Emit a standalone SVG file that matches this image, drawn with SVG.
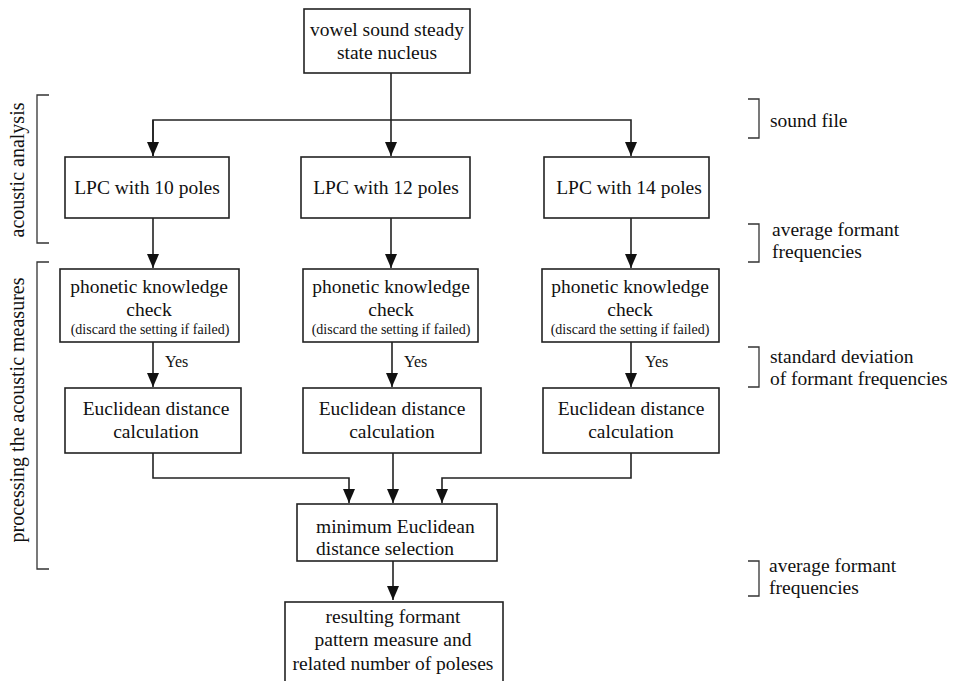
<svg xmlns="http://www.w3.org/2000/svg" width="956" height="681" viewBox="0 0 956 681" font-family="'Liberation Serif', 'DejaVu Serif', serif">
<defs>
<marker id="ah" markerWidth="14" markerHeight="12" refX="14" refY="6" orient="auto" markerUnits="userSpaceOnUse"><path d="M0,0 L14,6 L0,12 z" fill="#111"/></marker>
<style>
.box{fill:#fff;stroke:#222;stroke-width:1.6}
text{font-family:'Liberation Serif','DejaVu Serif',serif;fill:#111}
.t{font-size:19.5px;text-anchor:middle}
.s{font-size:14px;text-anchor:middle}
.y{font-size:16px}
.r{font-size:19.5px}
.c{fill:none;stroke:#222;stroke-width:1.6}
.b{fill:none;stroke:#333;stroke-width:1.3}
</style>
</defs>
<rect width="956" height="681" fill="#fff"/>
<g id="connectors">
<path class="c" d="M391,73 V156" marker-end="url(#ah)"/>
<path class="c" d="M153,156 V120 H631 V156" marker-end="url(#ah)"/>
<path class="c" d="M153,120 V156" marker-end="url(#ah)"/>
<path class="c" d="M153,218 V268" marker-end="url(#ah)"/>
<path class="c" d="M391,218 V268" marker-end="url(#ah)"/>
<path class="c" d="M631,218 V268" marker-end="url(#ah)"/>
<path class="c" d="M153,342 V387" marker-end="url(#ah)"/>
<path class="c" d="M392,342 V387" marker-end="url(#ah)"/>
<path class="c" d="M631,342 V387" marker-end="url(#ah)"/>
<path class="c" d="M153,453 V478 H349 V503" marker-end="url(#ah)"/>
<path class="c" d="M393,453 V503" marker-end="url(#ah)"/>
<path class="c" d="M631,453 V478 H442 V503" marker-end="url(#ah)"/>
<path class="c" d="M393,561 V600" marker-end="url(#ah)"/>
<text class="y" x="165" y="367">Yes</text>
<text class="y" x="404" y="367">Yes</text>
<text class="y" x="645" y="367">Yes</text>
</g>
<g id="n_top"><rect class="box" x="304" y="9" width="166" height="64"/><text class="t" x="387" y="36">vowel sound steady</text><text class="t" x="387" y="59">state nucleus</text></g>
<g id="n_lpc10"><rect class="box" x="65" y="157" width="164" height="61"/><text class="t" x="147" y="194">LPC with 10 poles</text></g>
<g id="n_lpc12"><rect class="box" x="301" y="157" width="169" height="61"/><text class="t" x="386" y="194">LPC with 12 poles</text></g>
<g id="n_lpc14"><rect class="box" x="544" y="157" width="165" height="61"/><text class="t" x="629" y="194">LPC with 14 poles</text></g>
<g id="n_pk1"><rect class="box" x="60" y="269" width="179" height="73"/><text class="t" x="149" y="293">phonetic knowledge</text><text class="t" x="149" y="316">check</text><text class="s" x="150" y="334">(discard the setting if failed)</text></g>
<g id="n_pk2"><rect class="box" x="303" y="269" width="175" height="73"/><text class="t" x="391" y="293">phonetic knowledge</text><text class="t" x="391" y="316">check</text><text class="s" x="391" y="334">(discard the setting if failed)</text></g>
<g id="n_pk3"><rect class="box" x="542" y="269" width="177" height="73"/><text class="t" x="630" y="293">phonetic knowledge</text><text class="t" x="630" y="316">check</text><text class="s" x="630" y="334">(discard the setting if failed)</text></g>
<g id="n_ed1"><rect class="box" x="65" y="388" width="176" height="65"/><text class="t" x="156" y="415">Euclidean distance</text><text class="t" x="156" y="438">calculation</text></g>
<g id="n_ed2"><rect class="box" x="303" y="388" width="178" height="65"/><text class="t" x="392" y="415">Euclidean distance</text><text class="t" x="392" y="438">calculation</text></g>
<g id="n_ed3"><rect class="box" x="543" y="388" width="176" height="65"/><text class="t" x="631" y="415">Euclidean distance</text><text class="t" x="631" y="438">calculation</text></g>
<g id="n_min"><rect class="box" x="297" y="504" width="200" height="57"/><text class="r" x="316" y="533">minimum Euclidean</text><text class="r" x="316" y="555">distance selection</text></g>
<g id="n_res"><rect class="box" x="285" y="602" width="218" height="90"/><text class="t" x="393" y="623">resulting formant</text><text class="t" x="393" y="646">pattern measure and</text><text class="t" x="393" y="670">related number of poleses</text></g>
<g id="brackets">
<path class="b" d="M49,95 H37 V243 H49"/>
<text class="t" style="font-size:20px" transform="translate(24,170) rotate(-90)">acoustic analysis</text>
<path class="b" d="M49,262 H37 V569 H49"/>
<text class="t" style="font-size:20px" transform="translate(24,410) rotate(-90)">processing the acoustic measures</text>
<path class="b" d="M748,99 H759 V138 H748"/>
<text class="r" x="770" y="127">sound file</text>
<path class="b" d="M748,224 H759 V262 H748"/>
<text class="r" x="772" y="236">average formant</text>
<text class="r" x="772" y="258">frequencies</text>
<path class="b" d="M748,347 H759 V387 H748"/>
<text class="r" x="770" y="363">standard deviation</text>
<text class="r" x="770" y="385">of formant frequencies</text>
<path class="b" d="M748,561 H759 V596 H748"/>
<text class="r" x="769" y="572">average formant</text>
<text class="r" x="769" y="594">frequencies</text>
</g>
</svg>
